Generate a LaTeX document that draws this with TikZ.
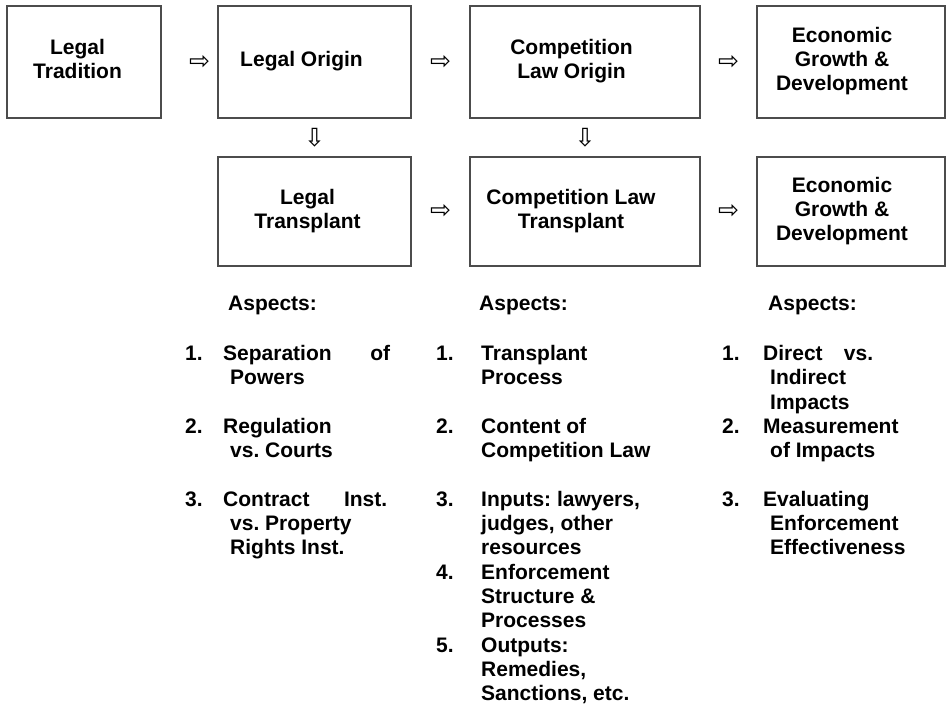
\documentclass[tikz,border=0pt]{standalone}
\usepackage{fontspec}
\setmainfont{Liberation Sans}
\newfontfamily\arrowfont{DejaVu Sans}
\usetikzlibrary{positioning, calc}
\frenchspacing

% box text, pulled left by half of #1
\newcommand{\stagetext}[2]{\hspace*{-#1}\begin{tabular}{@{}c@{}}#2\end{tabular}}

\begin{document}
\begin{tikzpicture}[x=1pt, y=-1pt,
    stage/.style={draw=black!70, line width=1.3pt, inner sep=0pt, minimum height=112pt,
                  font=\bfseries\fontsize{21}{24}\selectfont},
    hollow/.style={inner sep=0pt, font=\arrowfont\fontsize{25}{25}\selectfont},
    aspects/.style={anchor=base west, inner sep=0pt, font=\bfseries\fontsize{21}{24.3}\selectfont}]
    \useasboundingbox (0,0) rectangle (947,704);
    % top row
    \node[stage, minimum width=154pt] (tradition) at (84,62) {\stagetext{13pt}{Legal\\Tradition}};
    \node[stage, minimum width=193pt] (origin) at (314.5,62) {\stagetext{26pt}{Legal Origin}};
    \node[stage, minimum width=230pt] (comporigin) at (585,62) {\stagetext{27pt}{Competition\\Law Origin}};
    \node[stage, minimum width=188pt] (growthtop) at (851,62) {\stagetext{18pt}{Economic\\Growth \&\\Development}};
    % bottom row
    \node[stage, minimum width=193pt, minimum height=109pt] (transplant) at (314.5,211.5) {\stagetext{14pt}{Legal\\Transplant}};
    \node[stage, minimum width=230pt, minimum height=109pt] (comptransplant) at (585,211.5) {\stagetext{28pt}{Competition Law\\Transplant}};
    \node[stage, minimum width=188pt, minimum height=109pt] (growthbottom) at (851,211.5) {\stagetext{18pt}{Economic\\Growth \&\\Development}};
    % hollow arrows
    \node[hollow] (ar1) at ($(tradition.east)!0.68!(origin.west)$) {⇨};
    \node[hollow] (ar2) at ($(origin.east)!0.5!(comporigin.west)$) {⇨};
    \node[hollow] (ar3) at ($(comporigin.east)!0.5!(growthtop.west)$) {⇨};
    \node[hollow] (ar4) at ($(origin.south)!0.5!(transplant.north)$) {⇩};
    \node[hollow] (ar5) at ($(comporigin.south)!0.5!(comptransplant.north)$) {⇩};
    \node[hollow] (ar6) at ($(transplant.east)!0.5!(comptransplant.west)$) {⇨};
    \node[hollow] (ar7) at ($(comptransplant.east)!0.5!(growthbottom.west)$) {⇨};
    % aspects
    \node[aspects] (headleft) at (228,310.5) {Aspects:};
    \node[aspects] (headmid) at (479,310.5) {Aspects:};
    \node[aspects] (headright) at (768,310.5) {Aspects:};
    \node[aspects] (listleft) at (185,360.5) {\begin{tabular}[t]{@{}p{38pt}@{}l@{}}
        1. & \makebox[167pt][s]{Separation of}\\
           & \hspace*{7pt}Powers\\[24.3pt]
        2. & Regulation\\
           & \hspace*{7pt}vs. Courts\\[24.3pt]
        3. & \makebox[164pt][s]{Contract Inst.}\\
           & \hspace*{7pt}vs. Property\\
           & \hspace*{7pt}Rights Inst.
    \end{tabular}};
    \node[aspects] (listmid) at (436,360.5) {\begin{tabular}[t]{@{}p{45pt}@{}l@{}}
        1. & Transplant\\
           & Process\\[24.3pt]
        2. & Content of\\
           & Competition Law\\[24.3pt]
        3. & Inputs: lawyers,\\
           & judges, other\\
           & resources\\
        4. & Enforcement\\
           & Structure \&\\
           & Processes\\
        5. & Outputs:\\
           & Remedies,\\
           & Sanctions, etc.
    \end{tabular}};
    \node[aspects] (listright) at (722,360.5) {\begin{tabular}[t]{@{}p{41pt}@{}l@{}}
        1. & \makebox[110pt][s]{Direct vs.}\\
           & \hspace*{7pt}Indirect\\
           & \hspace*{7pt}Impacts\\
        2. & Measurement\\
           & \hspace*{7pt}of Impacts\\[24.3pt]
        3. & Evaluating\\
           & \hspace*{7pt}Enforcement\\
           & \hspace*{7pt}Effectiveness
    \end{tabular}};
\end{tikzpicture}
\end{document}
